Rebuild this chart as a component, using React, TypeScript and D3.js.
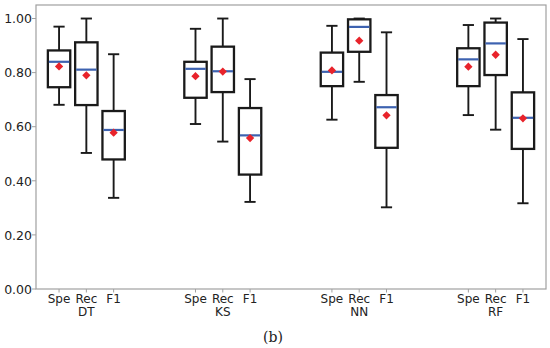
import React from 'react';
import * as d3 from 'd3';

// models and metrics
const models = ['DT', 'KS', 'NN', 'RF'];
const metrics = ['Spe', 'Rec', 'F1'];

// box statistics, ordered DT(Spe,Rec,F1), KS(...), NN(...), RF(...)
const whiskerHigh = [0.97, 1.0, 0.868, 0.962, 1.0, 0.776, 0.973, 1.0, 0.949, 0.976, 1.0, 0.924];
const q3 = [0.882, 0.912, 0.658, 0.84, 0.896, 0.669, 0.874, 0.997, 0.717, 0.89, 0.985, 0.727];
const medians = [0.84, 0.811, 0.588, 0.814, 0.805, 0.568, 0.803, 0.969, 0.672, 0.849, 0.908, 0.633];
const q1 = [0.746, 0.68, 0.479, 0.707, 0.728, 0.423, 0.75, 0.877, 0.522, 0.75, 0.791, 0.518];
const whiskerLow = [0.681, 0.503, 0.337, 0.61, 0.545, 0.322, 0.626, 0.766, 0.302, 0.643, 0.589, 0.317];
const means = [0.823, 0.79, 0.578, 0.787, 0.804, 0.558, 0.808, 0.918, 0.642, 0.822, 0.866, 0.631];

const yTicks = [0, 0.2, 0.4, 0.6, 0.8, 1.0];

const W = 550;
const H = 348;
const margin = { top: 5, right: 4, bottom: 59, left: 36 };

const App = () => {
  const boxes = models.flatMap((m, gi) =>
    metrics.map((k, mi) => {
      const i = gi * 3 + mi;
      return {
        model: m,
        metric: k,
        pos: gi * 5 + mi + 1,
        hi: whiskerHigh[i],
        q3: q3[i],
        med: medians[i],
        q1: q1[i],
        lo: whiskerLow[i],
        mean: means[i],
      };
    })
  );

  const x = d3
    .scaleLinear()
    .domain([0.155, 18.845])
    .range([margin.left, W - margin.right]);
  const y = d3
    .scaleLinear()
    .domain([0, 1.05])
    .range([H - margin.bottom, margin.top]);

  const boxW = x(0.82) - x(0);
  const capW = boxW / 2;
  const diamond = d3.symbol().type(d3.symbolDiamond2).size(44)();
  const font = 'DejaVu Sans, sans-serif';
  const y0 = H - margin.bottom;

  return (
    <svg
      width={W}
      height={H}
      style={{ position: 'absolute', left: 0, top: 0, background: '#fff' }}
    >
      {/* frame */}
      <rect
        x={margin.left}
        y={margin.top}
        width={W - margin.left - margin.right}
        height={y0 - margin.top}
        fill="none"
        stroke="#a0a0a0"
        strokeWidth={1.2}
      />

      {/* y axis */}
      {yTicks.map((t) => (
        <g key={t} transform={`translate(0,${y(t)})`}>
          <line x1={margin.left - 4} x2={margin.left} stroke="#a0a0a0" />
          <text
            x={margin.left - 4}
            dy="0.38em"
            textAnchor="end"
            fontFamily={font}
            fontSize={12.5}
            fill="#222"
          >
            {d3.format('.2f')(t)}
          </text>
        </g>
      ))}

      {/* x ticks */}
      {boxes.map((b) => (
        <g key={`t${b.pos}`} transform={`translate(${x(b.pos)},${y0})`}>
          <line y1={0} y2={3.5} stroke="#a0a0a0" />
          <text y={14} textAnchor="middle" fontFamily={font} fontSize={12} fill="#222">
            {b.metric}
          </text>
        </g>
      ))}
      {models.map((m, gi) => (
        <text
          key={m}
          x={x(gi * 5 + 2)}
          y={y0 + 27}
          textAnchor="middle"
          fontFamily={font}
          fontSize={12}
          fill="#222"
        >
          {m}
        </text>
      ))}

      {/* boxes */}
      {boxes.map((b) => {
        const cx = x(b.pos);
        return (
          <g key={`b${b.pos}`} stroke="#1a1a1a" strokeWidth={1.9} fill="none">
            <line x1={cx} x2={cx} y1={y(b.hi)} y2={y(b.q3)} />
            <line x1={cx} x2={cx} y1={y(b.q1)} y2={y(b.lo)} />
            <line x1={cx - capW / 2} x2={cx + capW / 2} y1={y(b.hi)} y2={y(b.hi)} />
            <line x1={cx - capW / 2} x2={cx + capW / 2} y1={y(b.lo)} y2={y(b.lo)} />
            <rect
              x={cx - boxW / 2}
              y={y(b.q3)}
              width={boxW}
              height={y(b.q1) - y(b.q3)}
              strokeWidth={2.3}
            />
            <line
              x1={cx - boxW / 2 + 1}
              x2={cx + boxW / 2 - 1}
              y1={y(b.med)}
              y2={y(b.med)}
              stroke="#3d62b0"
              strokeWidth={2.2}
            />
            <path
              d={diamond!}
              transform={`translate(${cx},${y(b.mean)})`}
              fill="#e8232b"
              stroke="none"
            />
          </g>
        );
      })}

      {/* caption */}
      <text
        x={273}
        y={342}
        textAnchor="middle"
        fontFamily="DejaVu Serif, serif"
        fontSize={14}
        fill="#222"
      >
        (b)
      </text>
    </svg>
  );
};

export default App;
